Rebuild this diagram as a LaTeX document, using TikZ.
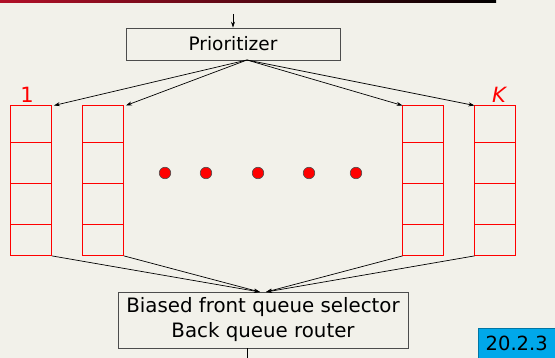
\documentclass[tikz,border=0pt]{standalone}
\usepackage{fontspec}
\setmainfont{DejaVu Sans}
\usetikzlibrary{arrows.meta}
\definecolor{bgcol}{RGB}{242,241,234}
\definecolor{qred}{RGB}{255,0,0}
\definecolor{tagblue}{RGB}{0,168,234}
\definecolor{barred}{RGB}{178,16,40}
\begin{document}
\begin{tikzpicture}[x=1pt,y=-1pt,
  stagebox/.style={draw=black!70,fill=bgcol,line width=0.8pt,inner sep=0pt,align=center},
  queuebox/.style={minimum width=41pt,minimum height=150pt,inner sep=0pt},
  cellline/.style={draw=qred,line width=1pt},
  flow/.style={draw=black,line width=0.7pt,-{Stealth[length=6pt,width=4pt]}},
  plain/.style={draw=black,line width=0.7pt},
  reddot/.style={circle,fill=qred,draw=black!70,line width=0.6pt,minimum size=11.5pt,inner sep=0pt},
  qlabel/.style={text=qred,font=\fontsize{21}{21}\selectfont,inner sep=0pt}]
% page background and top rule
\fill[bgcol] (0,0) rectangle (555,358);
\shade[left color=barred,right color=black] (0,0) rectangle (496,3);
\useasboundingbox (0,0) rectangle (555,358);

% prioritizer stage
\node[stagebox,minimum width=214pt,minimum height=32pt,font=\fontsize{18.5}{18.5}\selectfont] (pr) at (233,44) {Prioritizer};
\coordinate (feed) at (233,14);
\coordinate (src) at (247,60);
\draw[flow] (feed) -- (pr.north);

% front queues: four cells each
\foreach \n/\x in {q1/10.5,q2/82.5,q3/402.5,q4/474.5}{
  \node[queuebox,anchor=north west] (\n) at (\x,105.5) {};
  \draw[cellline] (\x,105.5) rectangle +(41,150);
  \draw[cellline] (\x,142.5) -- +(41,0);
  \draw[cellline] (\x,183.5) -- +(41,0);
  \draw[cellline] (\x,224.5) -- +(41,0);
}
\node[qlabel] (l1) at (27,95) {1};
\node[qlabel] (lk) at (499,95) {\itshape K};

% ellipsis dots
\foreach \i/\x in {1/165,2/206,3/258,4/309,5/356}
  \node[reddot] (dot\i) at (\x,173) {};

% prioritizer to front queues
\draw[flow] (src) -- ([xshift=2pt]q1.north east);
\draw[flow] (src) -- ([xshift=2pt]q2.north east);
\draw[flow] (src) -- (q3.north west);
\draw[flow] (src) -- (q4.north west);

% selector stage
\node[stagebox,minimum width=290pt,minimum height=56pt,font=\fontsize{19.8}{25}\selectfont] (sel) at (263,320) {Biased front queue selector\\Back queue router};
\coordinate (inL) at (260,292);
\coordinate (inR) at (266,292);
\coordinate (out) at (247,358);
\draw[flow] (q1.south east) -- (inL);
\draw[flow] (q2.south east) -- (inL);
\draw[flow] (q3.south west) -- (inR);
\draw[flow] (q4.south west) -- (inR);
\draw[plain] (sel.south -| out) -- (out);

% section tag
\node[fill=tagblue,draw=tagblue!70!black,line width=0.5pt,minimum width=77pt,minimum height=30pt,inner sep=0pt,anchor=north west,font=\fontsize{19.5}{19.5}\selectfont] (tag) at (478,328) {20.2.3};
\end{tikzpicture}
\end{document}
